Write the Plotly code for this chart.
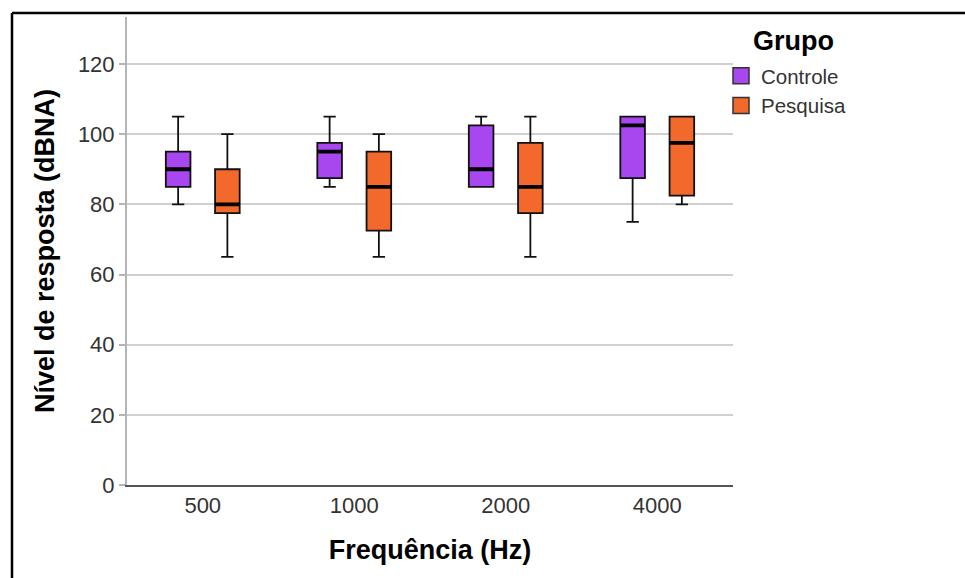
import plotly.graph_objects as go

freqs = ["500", "1000", "2000", "4000"]

ctrl_low = [80, 85, 85, 75]
ctrl_q1 = [85, 87.5, 85, 87.5]
ctrl_med = [90, 95, 90, 102.5]
ctrl_q3 = [95, 97.5, 102.5, 105]
ctrl_high = [105, 105, 105, 105]

pesq_low = [65, 65, 65, 80]
pesq_q1 = [77.5, 72.5, 77.5, 82.5]
pesq_med = [80, 85, 85, 97.5]
pesq_q3 = [90, 95, 97.5, 105]
pesq_high = [100, 100, 105, 105]

PURPLE = "#A846F0"
ORANGE = "#F2692B"
FONT = "Liberation Sans, Arial, sans-serif"

fig = go.Figure()

groups = [
    ("Controle", PURPLE, ctrl_low, ctrl_q1, ctrl_med, ctrl_q3, ctrl_high, "C"),
    ("Pesquisa", ORANGE, pesq_low, pesq_q1, pesq_med, pesq_q3, pesq_high, "P"),
]

for name, color, lo, q1, med, q3, hi, og in groups:
    fig.add_trace(go.Box(
        x=freqs, q1=q1, median=med, q3=q3, lowerfence=lo, upperfence=hi,
        name=name, offsetgroup=og, fillcolor=color,
        line=dict(color="#111111", width=1.8), whiskerwidth=0.5,
        showlegend=False, hoverinfo="skip",
    ))
    fig.add_trace(go.Box(
        x=freqs, q1=med, median=med, q3=med, lowerfence=med, upperfence=med,
        name=name, offsetgroup=og, fillcolor="rgba(0,0,0,0)",
        line=dict(color="black", width=3.8), whiskerwidth=0,
        showlegend=False, hoverinfo="skip",
    ))

for name, color, *_ in groups:
    fig.add_trace(go.Scatter(
        x=[None], y=[None], mode="markers", name=name,
        marker=dict(symbol="square", size=16, color=color,
                    line=dict(color="#333333", width=1.5)),
    ))

px0, px1, py0, py1 = 127, 733, 17, 485
W, H = 965, 578
pw, ph = px1 - px0, py1 - py0

def xp(px):
    return (px - px0) / pw

def yp(py):
    return (py1 - py) / ph

shapes = [
    dict(type="line", xref="paper", yref="paper", x0=xp(12), x1=xp(12), y0=yp(600), y1=yp(13),
         line=dict(color="black", width=2.5)),
    dict(type="line", xref="paper", yref="paper", x0=xp(12), x1=xp(980), y0=yp(13), y1=yp(13),
         line=dict(color="black", width=2.5)),
]

annotations = [
    dict(text="<b>Grupo</b>", xref="paper", yref="paper", x=xp(751), y=yp(41),
         xanchor="left", yanchor="middle", showarrow=False,
         font=dict(size=27, color="black", family=FONT)),
]

fig.update_layout(
    width=W, height=H,
    margin=dict(l=px0, r=W - px1, t=py0, b=H - py1, pad=0),
    paper_bgcolor="white", plot_bgcolor="white",
    boxmode="group", boxgap=0.35, boxgroupgap=0.5,
    font=dict(family=FONT, color="#333333", size=22),
    shapes=shapes, annotations=annotations,
    legend=dict(
        x=xp(721), y=yp(56), xanchor="left", yanchor="top",
        font=dict(size=20.5, color="#333333", family=FONT),
        bgcolor="rgba(0,0,0,0)", tracegroupgap=0, itemsizing="trace",
        borderwidth=0,
    ),
    xaxis=dict(
        type="category", categoryorder="array", categoryarray=freqs,
        showline=True, linecolor="#555555", linewidth=1.5,
        showgrid=False, ticks="", tickfont=dict(size=22, color="#333333"),
        title=dict(text="<b>Frequência (Hz)</b>", font=dict(size=27, color="black"), standoff=23),
    ),
    yaxis=dict(
        range=[0, 133.4], tickvals=[0, 20, 40, 60, 80, 100, 120],
        showline=True, linecolor="#b5b5b5", linewidth=2,
        showgrid=True, gridcolor="#d0d0d0", gridwidth=1.5,
        ticks="outside", ticklen=6, tickcolor="#b5b5b5", tickwidth=1.5,
        tickfont=dict(size=22, color="#333333"), zeroline=False,
        title=dict(text="<b>Nível de resposta (dBNA)</b>", font=dict(size=27, color="black"), standoff=15),
    ),
)

fig.write_html("out.html")
